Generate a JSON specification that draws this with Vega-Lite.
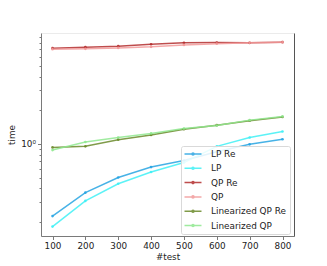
{
  "$schema": "https://vega.github.io/schema/vega-lite/v6.json",
  "width": 253,
  "height": 203,
  "autosize": {"type": "none"},
  "padding": {"left": 41, "top": 33, "right": 33, "bottom": 30},
  "background": "white",
  "config": {
    "view": {"stroke": "#ebebeb", "strokeWidth": 1},
    "font": "DejaVu Sans",
    "axis": {"domainColor": "#7a7a7a", "tickColor": "#7a7a7a", "labelColor": "#222", "titleColor": "#222", "labelFontSize": 8.8, "titleFontSize": 8.8, "titleFontWeight": "normal", "grid": false, "labelFont": "DejaVu Sans", "titleFont": "DejaVu Sans", "labelOverlap": false},
    "axisX": {"labelOverlap": false, "labelBound": false}
  },
  "data": {"values": [
    {"n":100,"s":"LP Re","t":0.226},{"n":200,"s":"LP Re","t":0.366},{"n":300,"s":"LP Re","t":0.50},{"n":400,"s":"LP Re","t":0.62},{"n":500,"s":"LP Re","t":0.71},{"n":600,"s":"LP Re","t":0.85},{"n":700,"s":"LP Re","t":0.99},{"n":800,"s":"LP Re","t":1.10},
    {"n":100,"s":"LP","t":0.182},{"n":200,"s":"LP","t":0.309},{"n":300,"s":"LP","t":0.44},{"n":400,"s":"LP","t":0.56},{"n":500,"s":"LP","t":0.68},{"n":600,"s":"LP","t":0.95},{"n":700,"s":"LP","t":1.14},{"n":800,"s":"LP","t":1.29},
    {"n":100,"s":"QP Re","t":7.17},{"n":200,"s":"QP Re","t":7.32},{"n":300,"s":"QP Re","t":7.47},{"n":400,"s":"QP Re","t":7.78},{"n":500,"s":"QP Re","t":8.0},{"n":600,"s":"QP Re","t":8.04},{"n":700,"s":"QP Re","t":8.0},{"n":800,"s":"QP Re","t":8.11},
    {"n":100,"s":"QP","t":7.03},{"n":200,"s":"QP","t":7.07},{"n":300,"s":"QP","t":7.21},{"n":400,"s":"QP","t":7.37},{"n":500,"s":"QP","t":7.67},{"n":600,"s":"QP","t":7.87},{"n":700,"s":"QP","t":8.0},{"n":800,"s":"QP","t":8.11},
    {"n":100,"s":"Linearized QP Re","t":0.93},{"n":200,"s":"Linearized QP Re","t":0.95},{"n":300,"s":"Linearized QP Re","t":1.09},{"n":400,"s":"Linearized QP Re","t":1.20},{"n":500,"s":"Linearized QP Re","t":1.35},{"n":600,"s":"Linearized QP Re","t":1.47},{"n":700,"s":"Linearized QP Re","t":1.61},{"n":800,"s":"Linearized QP Re","t":1.74},
    {"n":100,"s":"Linearized QP","t":0.88},{"n":200,"s":"Linearized QP","t":1.04},{"n":300,"s":"Linearized QP","t":1.14},{"n":400,"s":"Linearized QP","t":1.24},{"n":500,"s":"Linearized QP","t":1.37},{"n":600,"s":"Linearized QP","t":1.46},{"n":700,"s":"Linearized QP","t":1.63},{"n":800,"s":"Linearized QP","t":1.76}
  ]},
  "layer": [
    {
      "mark": {"type": "line", "strokeWidth": 1.5, "opacity": 0.85},
      "encoding": {
        "x": {"field": "n", "type": "quantitative", "scale": {"domain": [65, 835], "nice": false, "zero": false},
          "axis": {"values": [100,200,300,400,500,600,700,800], "labelOverlap": false, "title": "#test", "tickSize": 3.5, "labelPadding": 2, "titlePadding": 2}},
        "y": {"field": "t", "type": "quantitative", "scale": {"type": "log", "domain": [0.15, 9.8], "nice": false},
          "axis": {"title": "time", "values": [0.2,0.3,0.4,0.5,0.6,0.7,0.8,0.9,1,2,3,4,5,6,7,8,9],
            "labelExpr": "datum.value == 1 ? '10⁰' : ''", "labelOverlap": false,
            "tickSize": {"condition": {"test": "datum.value == 1", "value": 3.5}, "value": 2},
            "labelPadding": 2, "titlePadding": 4}},
        "color": {"field": "s", "type": "nominal",
          "scale": {"domain": ["LP Re","LP","QP Re","QP","Linearized QP Re","Linearized QP"],
                    "range": ["#27a4e2","#3ff0f5","#b32e2e","#f29a9a","#6a8a2a","#8fe88f"]},
          "legend": {"title": null, "orient": "none", "legendX": 140, "legendY": 113,
            "symbolType": "M-2,0H2M0.25,0A0.25,0.25 0 1,1 -0.25,0A0.25,0.25 0 1,1 0.25,0",
            "symbolSize": 72, "symbolOffset": 4, "symbolStrokeWidth": 1.5, "labelFontSize": 8.9, "labelColor": "#222",
            "labelOffset": 13, "rowPadding": 4.3, "padding": 3, "strokeColor": "#d9d9d9", "fillColor": "rgba(255,255,255,0.85)", "cornerRadius": 2}}
      }
    },
    {
      "mark": {"type": "point", "filled": true, "size": 7, "opacity": 0.9},
      "encoding": {
        "x": {"field": "n", "type": "quantitative", "axis": {"values": [100,200,300,400,500,600,700,800], "labelOverlap": false, "title": "#test", "tickSize": 3.5, "labelPadding": 2, "titlePadding": 2}},
        "y": {"field": "t", "type": "quantitative", "axis": {"orient": "right", "labels": false, "ticks": false, "title": null, "domainColor": "#555"}},
        "color": {"field": "s", "type": "nominal", "legend": null}
      }
    }
  ],
  "resolve": {"axis": {"y": "independent"}}
}
